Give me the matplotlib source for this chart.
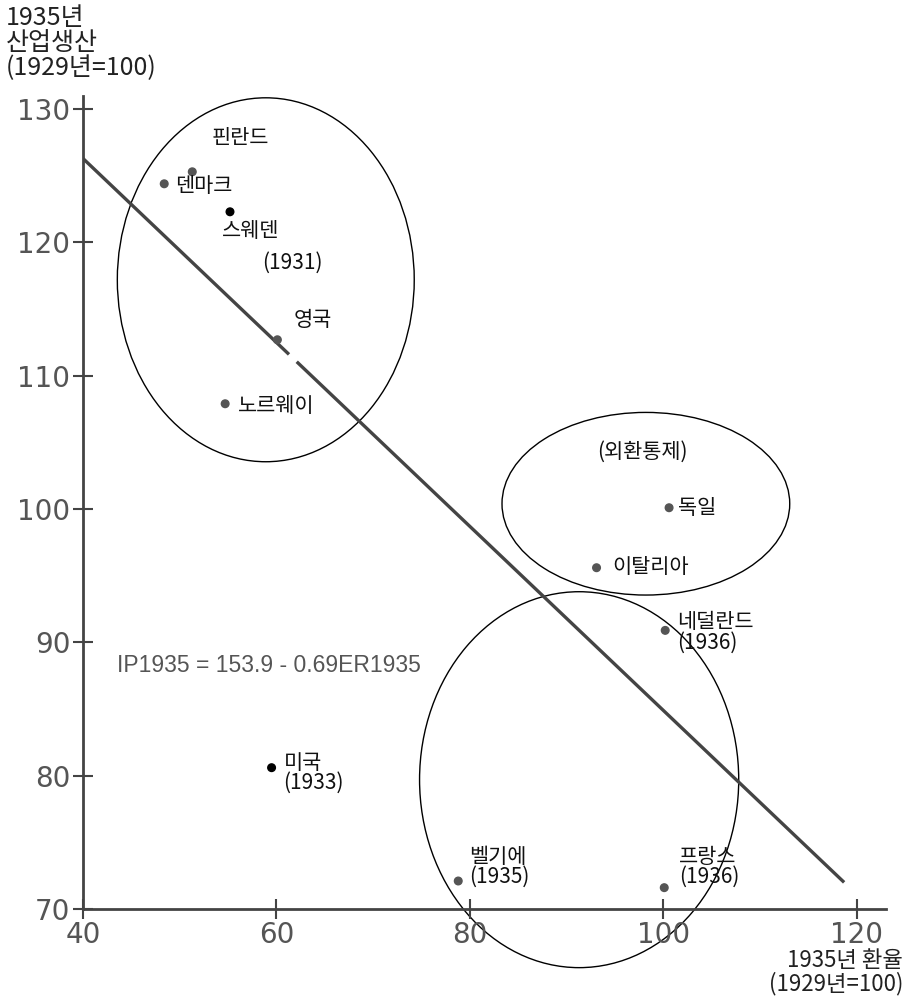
import matplotlib.pyplot as plt
from matplotlib.patches import Ellipse
import numpy as np

plt.rcParams['font.family'] = ['Noto Sans CJK KR', 'DejaVu Sans']

# data (1935 exchange rate vs 1935 industrial production, 1929=100)
countries = ["핀란드", "덴마크", "스웨덴", "영국", "노르웨이", "독일", "이탈리아",
             "네덜란드\n(1936)", "프랑스\n(1936)", "벨기에\n(1935)", "미국\n(1933)"]
er = [51.3, 48.4, 55.2, 60.1, 54.7, 100.6, 93.1, 100.2, 100.1, 78.8, 59.5]
ip = [125.3, 124.4, 122.3, 112.7, 107.9, 100.1, 95.6, 90.9, 71.6, 72.1, 80.6]
dot_colors = ["#555", "#555", "#000", "#555", "#555", "#555", "#555",
              "#555", "#555", "#555", "#000"]

# regression IP = 153.9 - 0.69 ER (drawn with the small break near 영국)
intercept = 153.9
slope = -0.69
line_parts = [[40, 61.3], [62.1, 118.7]]

# groups circled on the chart: centre, width, height
groups = [((58.9, 117.2), 30.7, 27.3),
          ((98.2, 100.4), 29.75, 13.7),
          ((91.3, 79.7), 33.0, 28.2)]

xticks = [40, 60, 80, 100, 120]
yticks = [70, 80, 90, 100, 110, 120, 130]

# label offsets in pixels (dx right, dy up)
offsets = [(48, 34), (11, -2), (-8, -19), (16, 20), (13, -2), (9, 0), (16, 1),
           (12, -2), (15, 21), (11, 14), (12, -5)]
has = ["center", "left", "left", "left", "left", "left", "left",
       "left", "left", "left", "left"]

fig = plt.figure(figsize=(9.05, 9.99), dpi=100)
ax = fig.add_axes([0.0917, 0.0901, 0.887, 0.814])

ax.set_xlim(40, 123)
ax.set_ylim(70, 131)

for part in line_parts:
    lx = np.array(part)
    ax.plot(lx, intercept + slope * lx, color="#444", lw=2.4, solid_capstyle="butt")

for (c, w, h) in groups:
    ax.add_patch(Ellipse(c, w, h, fill=False, ec="black", lw=1.0, clip_on=False))

ax.scatter(er, ip, s=30, c=dot_colors, zorder=3, clip_on=False)

for name, x, y, (dx, dy), ha in zip(countries, er, ip, offsets, has):
    ax.annotate(name, (x, y), xytext=(dx * 0.72, dy * 0.72), textcoords="offset points",
                ha=ha, va="center", fontsize=15, color="#111", linespacing=0.88)

# extra notes inside the circles
ax.annotate("(1931)", (55.2, 122.3), xytext=(32 * 0.72, -51 * 0.72), textcoords="offset points",
            ha="left", va="center", fontsize=15, color="#111")
ax.text(97.8, 104.3, "(외환통제)", ha="center", va="center", fontsize=15, color="#111")

ax.text(43.5, 88.3, "IP1935 = 153.9 - 0.69ER1935", fontsize=16.5, color="#555",
        family="Liberation Sans", va="center")

for s in ["top", "right"]:
    ax.spines[s].set_visible(False)
for s in ["left", "bottom"]:
    ax.spines[s].set_color("#444")
    ax.spines[s].set_linewidth(2)

ax.set_xticks(xticks)
ax.set_yticks(yticks)
ax.tick_params(direction="inout", length=14, width=1.5, color="#444",
               labelsize=20, labelcolor="#555", pad=2)
for t in ax.get_xticklabels() + ax.get_yticklabels():
    t.set_family("DejaVu Sans")

fig.text(0.006, 0.995, "1935년\n산업생산\n(1929년=100)", ha="left", va="top",
         fontsize=18, color="#222", linespacing=0.95)
fig.text(0.998, 0.004, "1935년 환율\n(1929년=100)", ha="right", va="bottom",
         fontsize=16, color="#222", linespacing=0.95)

fig.savefig("out.png", dpi=100, facecolor="white")
